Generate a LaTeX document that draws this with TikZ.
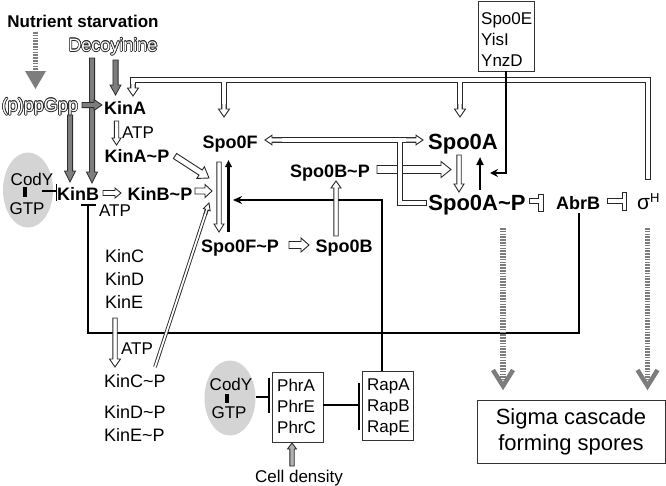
\documentclass[tikz,border=0pt]{standalone}
\usepackage{fontspec}
\setmainfont{Liberation Sans}
\usetikzlibrary{calc,arrows.meta,shapes.geometric}
\definecolor{dk}{RGB}{40,40,40}
\definecolor{ellc}{RGB}{212,212,212}
\definecolor{gry}{RGB}{125,125,125}
\tikzset{
 b17/.style={font=\fontsize{17}{19}\selectfont\bfseries, inner sep=0pt, text height=12.2pt, text depth=0pt},
 b18/.style={font=\fontsize{18}{20}\selectfont\bfseries, inner sep=0pt, text height=12.9pt, text depth=0pt},
 b22/.style={font=\fontsize{22}{24}\selectfont\bfseries, inner sep=0pt, text height=15.8pt, text depth=0pt},
 r17/.style={font=\fontsize{17}{19}\selectfont, inner sep=0pt, text height=12.2pt, text depth=0pt},
 r18/.style={font=\fontsize{18}{20}\selectfont, inner sep=0pt, text height=12.9pt, text depth=0pt},
 boxtxt/.style={font=\fontsize{17}{21}\selectfont, align=left, inner sep=0pt},
 blkar/.style={draw=dk, fill=white, line width=0.9pt, line join=miter},
 gryar/.style={draw=gray!35!black, fill=gry, line width=0.8pt},
 chO/.style={draw=dk, line width=5.2pt, line cap=rect, line join=miter},
 chI/.style={draw=white, line width=3.2pt, line cap=rect, line join=miter},
 chOt/.style={draw=dk, line width=3.6pt},
 chIt/.style={draw=white, line width=1.8pt},
 blline/.style={draw=black, line width=2.2pt},
 dotsty/.style={draw=gry, line width=5pt, dash pattern=on 1.6pt off 1.2pt},
 chev/.style={draw=gry, line width=4.5pt, line join=miter, line cap=butt},
 boxsty/.style={draw=black!80, line width=0.8pt, inner sep=0pt},
}
% closed block arrow: [opts]{from}{to}{shaft half}{head half}{head length}
\newcommand{\blockar}[6][]{%
  \path (#2) coordinate (BAa) (#3) coordinate (BAt);
  \path ($(BAt)!#6!(BAa)$) coordinate (BAb);
  \filldraw[blkar,#1] ($(BAa)!#4!90:(BAt)$) -- ($(BAb)!#4!90:(BAt)$) -- ($(BAb)!#5!90:(BAt)$) -- (BAt) -- ($(BAb)!#5!-90:(BAt)$) -- ($(BAb)!#4!-90:(BAt)$) -- ($(BAa)!#4!-90:(BAt)$) -- cycle;}
% open-backed head for channels
\newcommand{\openar}[6][]{%
  \path (#2) coordinate (BAa) (#3) coordinate (BAt);
  \path ($(BAt)!#6!(BAa)$) coordinate (BAb);
  \filldraw[blkar,#1] ($(BAa)!#4!90:(BAt)$) -- ($(BAb)!#4!90:(BAt)$) -- ($(BAb)!#5!90:(BAt)$) -- (BAt) -- ($(BAb)!#5!-90:(BAt)$) -- ($(BAb)!#4!-90:(BAt)$) -- ($(BAa)!#4!-90:(BAt)$);}
\newcommand{\chan}[3]{\draw[#1]#3; \draw[#2]#3;}
\newcommand{\outl}[3]{%
  \foreach \a in {0,30,...,330} \node[r18, text=dk] at ($(#2)+(\a:0.6)$) {#3};
  \node[r18, text=white] (#1) at (#2) {#3};}
\begin{document}
\begin{tikzpicture}[x=1pt,y=-1pt]
\useasboundingbox (0,0) rectangle (666,485);
\fill[white] (0,0) rectangle (666,485);

% ---- ellipses
\node[ellipse, fill=ellc, minimum width=50pt, minimum height=75pt, inner sep=0pt] (cody1) at (28,190) {};
\node[ellipse, fill=ellc, minimum width=51pt, minimum height=75pt, inner sep=0pt] (cody2) at (230,398) {};
\node[r17] (cody1t) at (32,179) {CodY};
\node[r17] (gtp1) at (27,208) {GTP};
\draw[line width=4pt] (25,187) -- (25,197);
\node[r17] (cody2t) at (231,384) {CodY};
\node[r17] (gtp2) at (229,412) {GTP};
\draw[line width=4pt] (227,394) -- (227,403);

% ---- text nodes
\node[b17] (ns) at (83,21) {Nutrient starvation};
\outl{deco}{113,45}{Decoyinine}
\outl{ppgpp}{40,105}{(p)ppGpp}
\node[b18] (kinA) at (125,108) {KinA};
\node[r17] (atp1) at (138,132) {ATP};
\node[b18] (kinAP) at (137,156) {KinA\textasciitilde P};
\node[b18] (kinB) at (78,194) {KinB};
\node[b18] (kinBP) at (160,194) {KinB\textasciitilde P};
\node[r17] (atp2) at (115,210) {ATP};
\node[r18, anchor=west] (kinC) at (105,256) {KinC};
\node[r18, anchor=west] (kinD) at (105,279) {KinD};
\node[r18, anchor=west] (kinE) at (105,302) {KinE};
\node[r17] (atp3) at (137,348) {ATP};
\node[r18, anchor=west] (kinCP) at (104,381) {KinC\textasciitilde P};
\node[r18, anchor=west] (kinDP) at (104,412) {KinD\textasciitilde P};
\node[r18, anchor=west] (kinEP) at (104,435) {KinE\textasciitilde P};
\node[b18] (spo0F) at (230,142) {Spo0F};
\node[b18] (spo0FP) at (240,246) {Spo0F\textasciitilde P};
\node[b18] (spo0B) at (344,246) {Spo0B};
\node[b18] (spo0BP) at (330,171) {Spo0B\textasciitilde P};
\node[b22] (spo0A) at (463,142) {Spo0A};
\node[b22] (spo0AP) at (477,203) {Spo0A\textasciitilde P};
\node[b18] (abrB) at (578,203) {AbrB};
\node[font=\fontsize{21}{23}\selectfont, inner sep=0pt, anchor=base west] (sigH) at (637,209.5) {σ\raisebox{7pt}{\fontsize{13}{13}\selectfont H}};
\node[r17] (cell) at (299,476) {Cell density};

% ---- boxes
\node[boxsty, minimum width=56pt, minimum height=70pt] (spo0E) at (506,36) {};
\node[boxtxt, anchor=west] (spo0Et) at (481,40) {Spo0E\\YisI\\YnzD};
\node[boxsty, minimum width=51pt, minimum height=70pt] (phr) at (297.5,407) {};
\node[boxtxt, anchor=west] (phrt) at (277,406) {PhrA\\PhrE\\PhrC};
\node[boxsty, minimum width=51pt, minimum height=69pt] (rap) at (387.5,405.5) {};
\node[boxtxt, anchor=west] (rapt) at (367,407.5) {RapA\\RapB\\RapE};
\node[boxsty, minimum width=188pt, minimum height=63pt, align=center, font=\fontsize{22}{26}\selectfont] (sigma) at (571,431.5) {Sigma cascade\\forming spores};

% ---- nutrient starvation arrow
\draw[dotsty] (35.5,32) -- (35.5,72);
\fill[gry] (25,71) -- (46,71) -- (35.5,89) -- cycle;

% ---- grey thick arrows
\blockar[gryar]{92,58}{92,183}{2.6pt}{5.5pt}{11pt}
\blockar[gryar]{70,115}{70,182}{2.6pt}{5.5pt}{11pt}
\blockar[gryar]{115.5,60}{115.5,95}{2.6pt}{5.5pt}{10pt}
\blockar[gryar]{82,105}{102,105}{2.6pt}{5.5pt}{8pt}

% ---- big Spo0B~P arrow (below channel)
\blockar{377,169.5}{451,169.5}{4pt}{8pt}{10pt}

% ---- hollow channels
\chan{chO}{chI}{(648,177) -- (648,80) -- (133,80) -- (133,88) (224,80) -- (224,109) (460,80) -- (460,109)}
\openar{133,84}{133,96}{2.1pt}{5.5pt}{8pt}
\openar{224,104}{224,117}{2.1pt}{5.5pt}{8pt}
\openar{460,104}{460,117}{2.1pt}{5.5pt}{8pt}
\chan{chO}{chI}{(272,140) -- (416,140) (400,140) -- (400,203) -- (424,203)}
\openar{282,140}{265,140}{2.1pt}{4.8pt}{7pt}
\openar{406,140}{423,140}{2.1pt}{4.8pt}{7pt}
\chan{chO}{chI}{(532,201) -- (541,201) (541,197) -- (541,209)}
\chan{chO}{chI}{(610,201) -- (624.5,201) (624.5,194.5) -- (624.5,208.5)}

% ---- black lines
\draw[blline] (579,213) -- (579,333) -- (88,333) -- (88,206);
\draw[blline] (81,205) -- (96,205);
\draw[blline, -{Stealth[length=9pt,width=8pt]}] (rap.north -| 382,0) -- (382,200) -- (233,200);
\draw[line width=2pt, -{Stealth[length=8pt,width=8pt]}] (spo0E.south) -- (506,173) -- (490,173);
\draw[line width=2.5pt, -{Triangle[length=7pt,width=6.5pt]}] (228.5,232) -- (228.5,160);
\draw[line width=2.8pt, -{Triangle[length=8pt,width=7pt]}] (480,190) -- (480,157);

% ---- inhibitors
\draw[line width=1.3pt] (42,191) -- (56,191);
\draw[line width=1.5pt] (56.5,183.5) -- (56.5,200.5);
\draw[line width=1.8pt] (256,397) -- (268,397);
\draw[line width=2pt] (269,378) -- (269,413);
\draw[line width=1.8pt] (phr.east |- 0,405) -- (358,405);
\draw[line width=2pt] (358.5,383) -- (358.5,430);

% ---- hollow block arrows
\blockar{219,162}{219,232}{2.2pt}{5pt}{8pt}
\blockar{459,155}{459,192}{2.2pt}{5pt}{8pt}
\blockar{116.5,121}{116.5,145}{2.2pt}{4.5pt}{7pt}
\blockar{115,318}{115,367}{2.2pt}{5.5pt}{8pt}
\blockar{336,236}{336,181}{2.2pt}{5pt}{7pt}
\blockar{289,245}{309,245}{3.5pt}{7pt}{8pt}
\blockar{103,193}{121,193}{2.5pt}{5pt}{6pt}
\blockar{195,191}{212,191}{3pt}{6.5pt}{7pt}
\blockar{175,156}{209,178}{3pt}{7pt}{10pt}
\blockar[fill=gray!60]{292,466}{292,443}{2.2pt}{4.5pt}{6pt}

% ---- KinC~P long thin double line
\coordinate (kcS) at (155,367);
\coordinate (kcT) at (209,203);
\chan{chOt}{chIt}{(kcS) -- ($(kcT)!6pt!(kcS)$)}
\openar{$(kcT)!12pt!(kcS)$}{kcT}{1.35pt}{3.5pt}{7pt}

% ---- dotted grey arrows to sigma cascade
\draw[dotsty, line width=5.5pt] (503,228) -- (503,380);
\draw[chev] (493,370) -- (503,386) -- (513,370);
\draw[dotsty, line width=5.5pt] (647.5,228) -- (647.5,380);
\draw[chev] (637.5,370) -- (647.5,386) -- (657.5,370);
\end{tikzpicture}
\end{document}
